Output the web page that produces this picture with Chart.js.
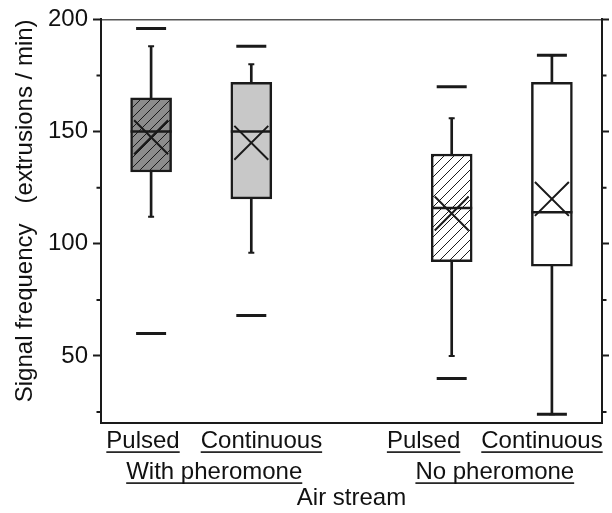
<!DOCTYPE html>
<html>
<head>
<meta charset="utf-8">
<script src="https://cdn.jsdelivr.net/npm/chart.js@4.4.0/dist/chart.umd.min.js"></script>
<style>
  html, body { margin: 0; padding: 0; background: #fff; }
</style>
</head>
<body>
<canvas id="chart" width="612" height="513"></canvas>
<script>
// box positions on the x axis (3 is the gap between the two groups)
const boxPositions = [1, 2, 4, 5];
const subLabels = ['Pulsed', 'Continuous', 'Pulsed', 'Continuous'];
const groupLabels = ['With pheromone', 'No pheromone'];

// signal frequency (extrusions / min)
const minValues = [60, 68, 40, 24];
const whiskerLow = [112, 96, 50, 24];
const q1Values = [132, 120, 92, 90];
const medianValues = [150, 150, 116, 114];
const q3Values = [165, 172, 140, 172];
const whiskerHigh = [188, 180, 156, 184];
const maxValues = [196, 188, 170, 184];
const meanValues = [147.5, 145, 113.5, 120];

const majorTicks = [50, 100, 150, 200];
const minorTicks = [25, 75, 125, 175];

const fontFamily = '"Liberation Sans", Arial, sans-serif';
const ink = '#1a1a1a';
Chart.defaults.font.family = fontFamily;
Chart.defaults.color = '#111';

function hatch(bg) {
    const c = document.createElement('canvas');
    c.width = 10;
    c.height = 10;
    const g = c.getContext('2d');
    g.fillStyle = bg;
    g.fillRect(0, 0, 10, 10);
    g.strokeStyle = ink;
    g.lineWidth = 1;
    g.beginPath();
    g.moveTo(-1, 11); g.lineTo(11, -1);
    g.moveTo(-1, 1); g.lineTo(1, -1);
    g.moveTo(9, 11); g.lineTo(11, 9);
    g.stroke();
    return g.createPattern(c, 'repeat');
}

const boxFills = [hatch('#8c8c8c'), '#c8c8c8', hatch('#ffffff'), '#ffffff'];

function points(vals) {
    return boxPositions.map((x, i) => ({x: x, y: vals[i]}));
}
function ranges(lo, hi) {
    return boxPositions.map((x, i) => ({x: x, y: [lo[i], hi[i]]}));
}
function markers(data, style, radius, width, order) {
    return {
        type: 'scatter', data: data, order: order,
        pointStyle: style, pointRadius: radius, pointHoverRadius: radius,
        pointBorderWidth: width, pointBorderColor: ink, pointBackgroundColor: ink
    };
}

const groupCenters = [1.63, 4.43];
const labelGap = 21;

const categoryLabels = {
    id: 'categoryLabels',
    afterDraw(chart) {
        const {ctx, chartArea, scales} = chart;
        ctx.save();
        // minor ticks on both sides
        ctx.strokeStyle = ink;
        ctx.lineWidth = 2;
        ctx.beginPath();
        minorTicks.forEach(v => {
            const py = scales.y.getPixelForValue(v);
            ctx.moveTo(chartArea.left - 4.5, py); ctx.lineTo(chartArea.left, py);
            ctx.moveTo(chartArea.right, py); ctx.lineTo(chartArea.right + 4.5, py);
        });
        ctx.stroke();

        ctx.font = '24px ' + fontFamily;
        ctx.fillStyle = '#111';
        ctx.textAlign = 'left';
        ctx.textBaseline = 'alphabetic';
        const row1 = chartArea.bottom + 25;
        const row2 = chartArea.bottom + 56;
        const underlined = (text, x, y) => {
            const w = ctx.measureText(text).width;
            ctx.fillText(text, x, y);
            ctx.fillRect(x, y + 3, w, 1.6);
            return w;
        };
        groupCenters.forEach((gx, g) => {
            const cx = scales.x.getPixelForValue(gx);
            const a = subLabels[2 * g], b = subLabels[2 * g + 1];
            const wa = ctx.measureText(a).width, wb = ctx.measureText(b).width;
            const x0 = cx - (wa + labelGap + wb) / 2;
            underlined(a, x0, row1);
            underlined(b, x0 + wa + labelGap, row1);
            const wg = ctx.measureText(groupLabels[g]).width;
            underlined(groupLabels[g], cx - wg / 2, row2);
        });
        ctx.restore();
    }
};

const setMajor = s => { s.ticks = majorTicks.map(v => ({value: v})); };

new Chart(document.getElementById('chart').getContext('2d'), {
    type: 'bar',
    data: {
        datasets: [
            {type: 'bar', data: ranges(whiskerLow, whiskerHigh), backgroundColor: ink,
             borderWidth: 0, barThickness: 2, grouped: false, order: 6},
            {type: 'bar', data: ranges(q1Values, q3Values), backgroundColor: boxFills,
             borderColor: ink, borderWidth: 2.5, borderSkipped: false,
             barThickness: 41, grouped: false, order: 5},
            markers(points(whiskerLow).concat(points(whiskerHigh)), 'line', 3, 2, 4),
            markers(points(minValues).concat(points(maxValues)), 'line', 15, 3, 3),
            markers(points(medianValues), 'line', 20.5, 2.5, 2),
            markers(points(meanValues), 'crossRot', 24, 2, 1)
        ]
    },
    options: {
        responsive: false,
        animation: false,
        devicePixelRatio: 1,
        layout: {autoPadding: false, padding: {left: 0, right: 0, top: 18.4, bottom: 0}},
        plugins: {legend: {display: false}, tooltip: {enabled: false}},
        scales: {
            x: {
                type: 'linear', position: 'bottom', min: 0.5, max: 5.5, offset: false,
                grid: {display: false, drawTicks: false}, ticks: {display: false},
                border: {display: true, color: ink, width: 2},
                title: {display: true, text: 'Air stream', font: {size: 24},
                        padding: {top: 60.9, bottom: 0}},
                afterFit: s => { s.height = 89.7; }
            },
            xTop: {
                type: 'linear', position: 'top', min: 0, max: 1,
                grid: {display: false, drawTicks: false}, ticks: {display: false},
                border: {display: true, color: '#555', width: 1.5},
                afterFit: s => { s.height = 0; }
            },
            y: {
                type: 'linear', position: 'left', min: 20, max: 200,
                afterBuildTicks: setMajor,
                grid: {drawOnChartArea: false, drawTicks: true, tickLength: 8, tickWidth: 2, tickColor: ink},
                border: {color: ink, width: 2},
                ticks: {padding: 5, font: {size: 24}},
                title: {display: true, text: 'Signal frequency   (extrusions / min)', font: {size: 24},
                        align: 'end', padding: {top: 10.6, bottom: 8.6}},
                afterFit: s => { s.width = 101; }
            },
            y2: {
                type: 'linear', position: 'right', min: 20, max: 200,
                afterBuildTicks: setMajor,
                grid: {drawOnChartArea: false, drawTicks: true, tickLength: 7, tickWidth: 2, tickColor: ink},
                border: {color: ink, width: 2},
                ticks: {display: false},
                afterFit: s => { s.width = 10; }
            }
        }
    },
    plugins: [categoryLabels]
});
</script>
</body>
</html>
